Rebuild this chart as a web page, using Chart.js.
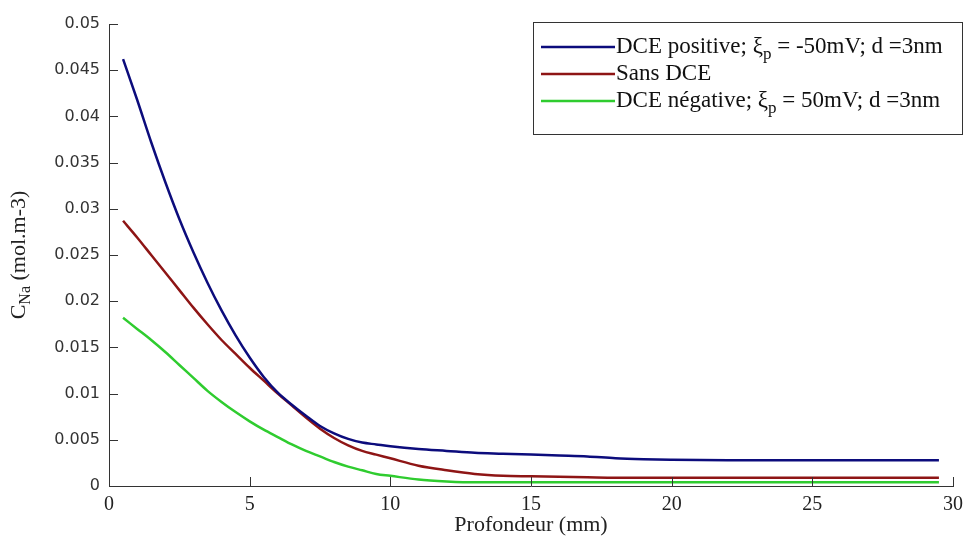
<!DOCTYPE html>
<html>
<head>
<meta charset="utf-8">
<script src="https://cdn.jsdelivr.net/npm/chart.js@4/dist/chart.umd.min.js"></script>
<style>
  html, body { margin: 0; padding: 0; background: #fff; }
</style>
</head>
<body>
<canvas id="chart" width="970" height="538"></canvas>
<script>
// depth (mm) and C_Na values
const depth = [0.5, 1, 1.5, 2, 2.5, 3, 3.5, 4, 4.5, 5, 5.5, 6, 6.5, 7, 7.5, 8, 8.5, 9, 9.5, 10,
               11, 12, 13, 14, 15, 16, 17, 18, 19, 20, 22, 24, 26, 28, 29.5];
const dcePositive = [0.0462, 0.0418, 0.0372, 0.0329, 0.0289, 0.0253, 0.0220, 0.0190, 0.0163, 0.0139,
                     0.0118, 0.0101, 0.0088, 0.0076, 0.0065, 0.0057, 0.0051, 0.0047, 0.0045, 0.0043,
                     0.0040, 0.0038, 0.0036, 0.0035, 0.0034, 0.0033, 0.0032, 0.0030, 0.0029, 0.00285,
                     0.0028, 0.0028, 0.0028, 0.0028, 0.0028];
const sansDce = [0.0287, 0.0269, 0.0250, 0.0231, 0.0212, 0.0193, 0.0175, 0.0158, 0.0143, 0.0128,
                 0.0114, 0.0100, 0.0087, 0.0074, 0.0062, 0.0052, 0.0044, 0.0038, 0.0034, 0.0030,
                 0.0022, 0.0017, 0.0013, 0.0011, 0.00105, 0.0010, 0.00095, 0.0009, 0.0009, 0.0009,
                 0.0009, 0.0009, 0.0009, 0.0009, 0.0009];
const dceNegative = [0.0182, 0.0170, 0.0158, 0.0145, 0.0131, 0.0117, 0.0103, 0.0091, 0.0080, 0.0070,
                     0.0061, 0.0053, 0.0045, 0.0038, 0.0032, 0.0026, 0.0021, 0.0017, 0.0013, 0.0011,
                     0.0007, 0.0005, 0.0004, 0.0004, 0.0004, 0.0004, 0.0004, 0.0004, 0.0004, 0.0004,
                     0.0004, 0.0004, 0.0004, 0.0004, 0.0004];

const seriesLabels = ['DCE positive; ξ_p = -50mV; d =3nm', 'Sans DCE', 'DCE négative; ξ_p = 50mV; d =3nm'];
const xTickValues = [0, 5, 10, 15, 20, 25, 30];
const yTickValues = [0, 0.005, 0.01, 0.015, 0.02, 0.025, 0.03, 0.035, 0.04, 0.045, 0.05];
const xTitle = 'Profondeur (mm)';
const yTitle = 'C_Na (mol.m-3)';

const SERIF = '"Liberation Serif", "Times New Roman", serif';
const SANS = '"DejaVu Sans", Verdana, sans-serif';

const toPoints = ys => ys.map((y, i) => ({ x: depth[i], y: y }));

// text with "_xx" written as subscript
function drawRich(ctx, text, x, y, size) {
  text.split(/_(\w+)/).forEach((p, i) => {
    if (!p) return;
    const sub = i % 2 === 1;
    ctx.font = (sub ? Math.round(size * 0.72) : size) + 'px ' + SERIF;
    ctx.fillText(p, x, sub ? y + size * 0.32 : y);
    x += ctx.measureText(p).width;
  });
  return x;
}
function richWidth(ctx, text, size) {
  let w = 0;
  text.split(/_(\w+)/).forEach((p, i) => {
    if (!p) return;
    ctx.font = (i % 2 === 1 ? Math.round(size * 0.72) : size) + 'px ' + SERIF;
    w += ctx.measureText(p).width;
  });
  return w;
}

const decorations = {
  id: 'decorations',
  afterDraw(chart) {
    const ctx = chart.ctx;
    const area = chart.chartArea;
    const xs = chart.scales.x, ys = chart.scales.y;
    ctx.save();
    // inward tick marks
    ctx.strokeStyle = '#333';
    ctx.lineWidth = 1;
    ctx.beginPath();
    xs.ticks.forEach(t => {
      const px = Math.round(xs.getPixelForValue(t.value)) + 0.5;
      ctx.moveTo(px, area.bottom);
      ctx.lineTo(px, area.bottom - 9);
    });
    ys.ticks.forEach(t => {
      const py = Math.round(ys.getPixelForValue(t.value)) + 0.5;
      ctx.moveTo(area.left, py);
      ctx.lineTo(area.left + 9, py);
    });
    ctx.stroke();

    // rotated y title with subscript
    ctx.fillStyle = '#222';
    ctx.textBaseline = 'middle';
    ctx.textAlign = 'left';
    const size = 22;
    const w = richWidth(ctx, yTitle, size);
    ctx.save();
    ctx.translate(19, (area.top + area.bottom) / 2);
    ctx.rotate(-Math.PI / 2);
    drawRich(ctx, yTitle, -w / 2, 0, size);
    ctx.restore();

    // legend box
    const box = { left: 533, top: 22, right: 962, bottom: 134 };
    ctx.fillStyle = '#fff';
    ctx.fillRect(box.left, box.top, box.right - box.left, box.bottom - box.top);
    ctx.strokeStyle = '#333';
    ctx.lineWidth = 1;
    ctx.strokeRect(box.left + 0.5, box.top + 0.5, box.right - box.left, box.bottom - box.top);
    chart.data.datasets.forEach((ds, i) => {
      const rowY = 47 + i * 27;
      ctx.strokeStyle = ds.borderColor;
      ctx.lineWidth = 2.5;
      ctx.beginPath();
      ctx.moveTo(box.left + 8, rowY);
      ctx.lineTo(box.left + 82, rowY);
      ctx.stroke();
      ctx.fillStyle = '#111';
      drawRich(ctx, ds.label, box.left + 83, rowY, 23);
    });
    ctx.restore();
  }
};

new Chart(document.getElementById('chart'), {
  type: 'line',
  data: {
    datasets: [
      { label: seriesLabels[0], data: toPoints(dcePositive), borderColor: '#0c0c7c' },
      { label: seriesLabels[1], data: toPoints(sansDce), borderColor: '#8e1515' },
      { label: seriesLabels[2], data: toPoints(dceNegative), borderColor: '#2fcc2f' }
    ]
  },
  options: {
    responsive: false,
    animation: false,
    devicePixelRatio: 1,
    layout: { padding: { top: 24, right: 16, left: 0, bottom: 0 } },
    elements: {
      point: { radius: 0 },
      line: { borderWidth: 2.5, cubicInterpolationMode: 'monotone' }
    },
    plugins: { legend: { display: false }, tooltip: { enabled: false } },
    scales: {
      x: {
        type: 'linear', min: 0, max: 30,
        afterBuildTicks: s => { s.ticks = xTickValues.map(v => ({ value: v })); },
        afterFit: s => { s.height = 52; },
        grid: { display: false, drawTicks: false },
        border: { display: true, color: '#333', width: 1 },
        ticks: { padding: 7, color: '#222', font: { family: SERIF, size: 20 } },
        title: { display: true, text: xTitle, color: '#222', padding: { top: 0, bottom: 0 },
                 font: { family: SERIF, size: 22 } }
      },
      y: {
        type: 'linear', min: 0, max: 0.05,
        afterBuildTicks: s => { s.ticks = yTickValues.map(v => ({ value: v })); },
        afterFit: s => { s.width = 109; },
        grid: { display: false, drawTicks: false },
        border: { display: true, color: '#333', width: 1 },
        ticks: { padding: 9, color: '#333', font: { family: SANS, size: 16 },
                 callback: v => String(Number(v.toFixed(4))) }
      }
    }
  },
  plugins: [decorations]
});
</script>
</body>
</html>
